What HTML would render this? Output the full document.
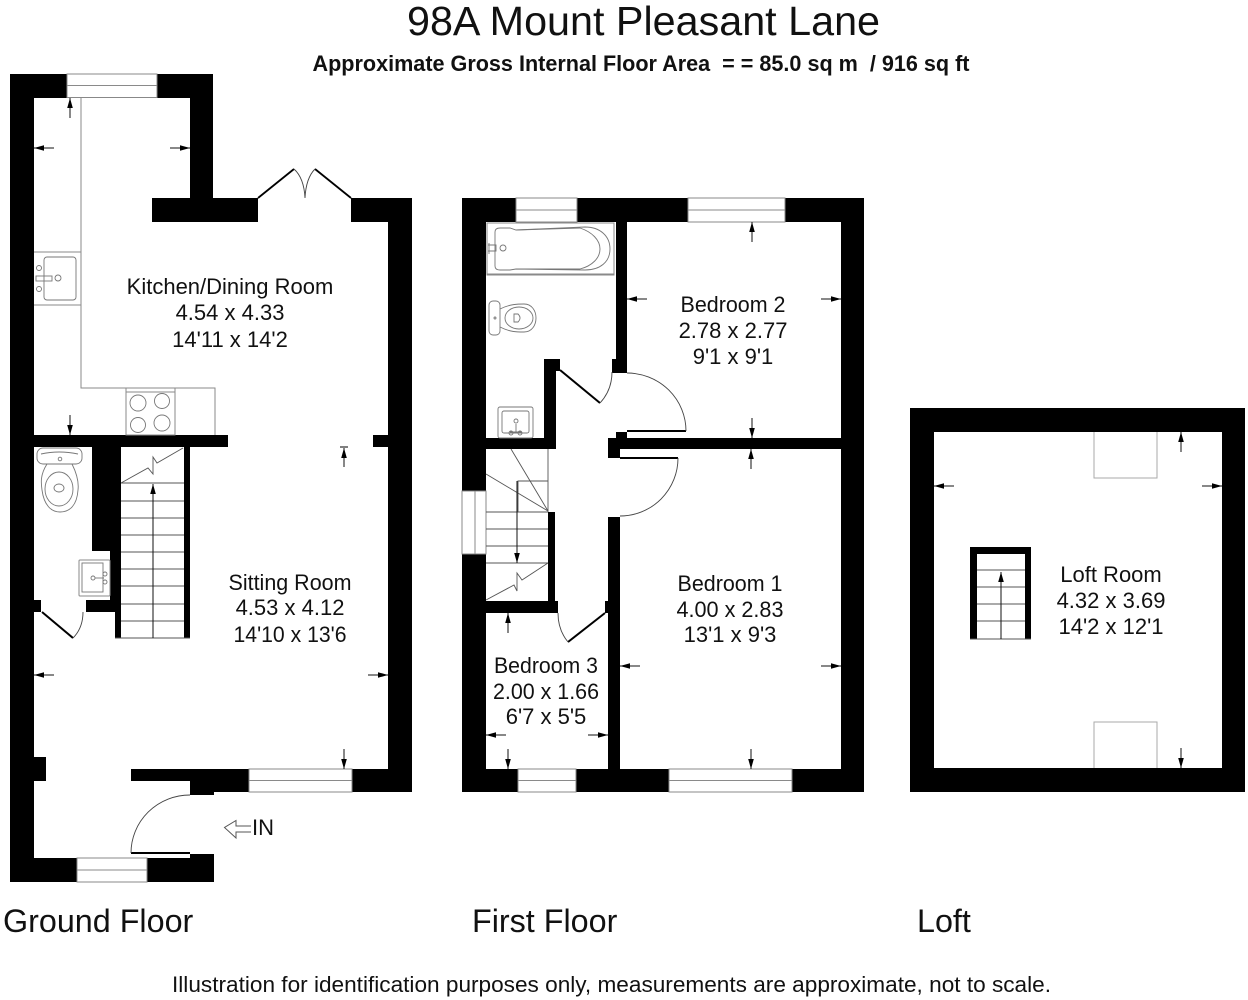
<!DOCTYPE html>
<html><head><meta charset="utf-8"><title>98A Mount Pleasant Lane</title>
<style>html,body{margin:0;padding:0;background:#fff}svg{display:block}
text{font-family:"Liberation Sans",Arial,sans-serif;fill:#111}
.r text,.r{font-size:22px;text-anchor:middle}
.w{fill:#000}.win{fill:#fff;stroke:#888;stroke-width:1}
.g{fill:none;stroke:#8a8a8a;stroke-width:1}
.f{fill:none;stroke:#777;stroke-width:.9}
.t{fill:none;stroke:#555;stroke-width:.9}
.a{stroke:#111;stroke-width:1;fill:none;marker-end:url(#ah)}
.leaf{stroke:#000;stroke-width:2;fill:none}
.arc{stroke:#444;stroke-width:.9;fill:none}
</style></head><body>
<svg width="1248" height="1000" viewBox="0 0 1248 1000" xmlns="http://www.w3.org/2000/svg">
<defs><marker id="ah" markerUnits="userSpaceOnUse" markerWidth="11" markerHeight="7" refX="10" refY="3.5" orient="auto"><path d="M0 0.7L10 3.5L0 6.3Z" fill="#000"/></marker></defs>
<rect width="1248" height="1000" fill="#fff"/>
<text x="643.5" y="35" font-size="41" text-anchor="middle" textLength="473" lengthAdjust="spacingAndGlyphs">98A Mount Pleasant Lane</text>
<text x="641" y="71" font-size="22" font-weight="bold" text-anchor="middle" textLength="657" lengthAdjust="spacingAndGlyphs" xml:space="preserve">Approximate Gross Internal Floor Area  = = 85.0 sq m  / 916 sq ft</text>
<text x="3" y="932" font-size="32.3">Ground Floor</text>
<text x="472" y="932" font-size="32.3">First Floor</text>
<text x="917" y="932" font-size="32.3">Loft</text>
<text x="611.5" y="992" font-size="22" text-anchor="middle" textLength="879" lengthAdjust="spacingAndGlyphs">Illustration for identification purposes only, measurements are approximate, not to scale.</text>

<!-- GROUND FLOOR walls -->
<g class="w">
<rect x="10" y="74" width="24" height="808"/>
<rect x="10" y="74" width="203" height="24"/>
<rect x="190" y="74" width="23" height="130"/>
<rect x="152" y="198" width="106" height="24"/>
<rect x="351" y="198" width="61" height="24"/>
<rect x="388" y="198" width="24" height="594"/>
<rect x="34" y="435" width="194" height="12"/>
<rect x="373" y="435" width="15" height="12"/>
<rect x="92" y="447" width="29" height="104"/>
<rect x="110" y="551" width="11" height="61"/>
<rect x="86" y="600" width="29" height="12"/>
<rect x="115" y="551" width="6" height="87"/>
<rect x="184" y="447" width="6" height="191"/>
<rect x="34" y="600" width="7" height="12"/>
<rect x="34" y="757" width="12" height="24"/>
<rect x="131" y="769" width="118" height="12"/>
<rect x="190" y="769" width="59" height="23"/>
<rect x="190" y="769" width="24" height="26"/>
<rect x="352" y="769" width="60" height="23"/>
<rect x="34" y="858" width="43" height="24"/>
<rect x="147" y="858" width="67" height="24"/>
<rect x="190" y="854" width="24" height="28"/>
</g>
<rect class="win" x="67" y="74" width="90" height="23.5"/><path class="g" d="M67 85.5H157"/>
<rect class="win" x="249" y="769" width="103" height="23"/><path class="g" d="M249 780.5H352"/>
<rect class="win" x="77" y="858" width="70" height="24"/><path class="g" d="M77 870H147"/>
<path d="M258 198L294 169M351 198L315 169" stroke="#000" stroke-width="1.8" fill="none"/>
<path class="arc" d="M294 169Q304 178 305 198M315 169Q306 178 305 198"/>
<!-- kitchen fixtures -->
<path class="g" d="M81 97V388H215V435"/>
<path class="g" d="M34 252H81M34 305H81"/>
<rect class="f" x="44" y="257" width="32" height="43" rx="3"/>
<rect class="f" x="36" y="276" width="16" height="5"/>
<circle class="f" cx="39" cy="268" r="2.5"/><circle class="f" cx="39" cy="289" r="2.5"/><circle class="f" cx="58" cy="278" r="3"/>
<rect class="g" x="126" y="388" width="49" height="47"/>
<path class="g" d="M126 392H175"/>
<circle class="f" cx="138" cy="403" r="8"/><circle class="f" cx="162" cy="401" r="7.5"/><circle class="f" cx="138" cy="425" r="7.5"/><circle class="f" cx="162" cy="423" r="8"/>
<!-- ground WC -->
<rect class="f" x="37" y="448" width="45" height="16" rx="6"/>
<path class="f" d="M41 454Q59 450 78 454"/>
<circle class="f" cx="60" cy="459" r="1.8"/>
<path class="f" d="M47 464C40 475 41 483 42 490C44 505 51 512 60 512C70 512 77 505 78 490C79 482 76 472 72 464"/>
<ellipse class="f" cx="59" cy="489" rx="14" ry="17"/>
<ellipse class="f" cx="59" cy="488" rx="5" ry="4"/>
<rect class="g" x="79" y="560" width="31" height="36" rx="1" fill="#fff"/>
<rect class="f" x="82" y="563" width="21" height="29"/>
<circle class="f" cx="93" cy="578" r="2"/><circle class="f" cx="105" cy="574" r="2"/><circle class="f" cx="105" cy="582" r="2"/>
<path class="f" d="M95 578H104"/>
<path class="leaf" d="M42 612L73 638"/><path class="arc" d="M73 638Q83 628 83 612"/>
<!-- ground stairs -->
<path class="t" d="M121 483H184M121 501H184M121 518H184M121 535H184M121 552H184M121 569H184M121 586H184M121 604H184M121 621H184M115 638H190"/>
<path class="t" d="M121 483L148 468L153 474L153 457L157 463L183 448"/>
<path class="a" d="M153 638V484"/>
<!-- front door -->
<path class="leaf" d="M131 853H190" stroke-width="2"/>
<path class="arc" d="M190 795A59 58 0 0 0 131 853"/>
<path d="M251 826H236V820.5L224.5 827.5L236 838V832H251" fill="#fff" stroke="#555" stroke-width="1"/>
<text x="252" y="835" font-size="22">IN</text>
<!-- ground arrows -->
<path class="a" d="M70 118V98"/><path class="a" d="M54 148H34"/><path class="a" d="M170 148H190"/><path class="a" d="M70 415V435"/>
<path class="a" d="M344 467V448"/><path d="M340 447H348" stroke="#000"/>
<path class="a" d="M54 675H34"/><path class="a" d="M368 675H388"/><path class="a" d="M344 749V769"/>

<g class="r">
<text x="230" y="294">Kitchen/Dining Room</text><text x="230" y="320">4.54 x 4.33</text><text x="230" y="347">14'11 x 14'2</text>
<text x="290" y="590" textLength="123" lengthAdjust="spacingAndGlyphs">Sitting Room</text><text x="290" y="615">4.53 x 4.12</text><text x="290" y="642" textLength="113" lengthAdjust="spacingAndGlyphs">14'10 x 13'6</text>
<text x="733" y="312" textLength="105" lengthAdjust="spacingAndGlyphs">Bedroom 2</text><text x="733" y="338">2.78 x 2.77</text><text x="733" y="364">9'1 x 9'1</text>
<text x="730" y="591" textLength="105" lengthAdjust="spacingAndGlyphs">Bedroom 1</text><text x="730" y="617" textLength="107" lengthAdjust="spacingAndGlyphs">4.00 x 2.83</text><text x="730" y="642">13'1 x 9'3</text>
<text x="546" y="673" textLength="104" lengthAdjust="spacingAndGlyphs">Bedroom 3</text><text x="546" y="699" textLength="106" lengthAdjust="spacingAndGlyphs">2.00 x 1.66</text><text x="546" y="724">6'7 x 5'5</text>
<text x="1111" y="582">Loft Room</text><text x="1111" y="608">4.32 x 3.69</text><text x="1111" y="634">14'2 x 12'1</text>
</g>

<!-- FIRST FLOOR walls -->
<g class="w">
<rect x="462" y="198" width="402" height="24"/>
<rect x="462" y="198" width="24" height="293"/>
<rect x="462" y="554" width="24" height="238"/>
<rect x="841" y="198" width="23" height="594"/>
<rect x="462" y="769" width="402" height="23"/>
<rect x="616" y="222" width="11" height="151"/>
<rect x="612" y="359" width="4" height="14"/>
<rect x="544" y="359" width="12" height="90"/>
<rect x="544" y="359" width="16" height="12"/>
<rect x="486" y="438" width="70" height="11"/>
<rect x="608" y="438" width="233" height="11"/>
<rect x="616" y="432" width="11" height="6"/>
<rect x="608" y="438" width="12" height="20"/>
<rect x="608" y="517" width="12" height="252"/>
<rect x="548" y="512" width="7" height="89"/>
<rect x="486" y="601" width="72" height="12"/>
<rect x="605" y="601" width="3" height="12"/>
</g>
<rect class="win" x="516" y="198" width="61" height="24"/><path class="g" d="M516 210H577"/>
<rect class="win" x="688" y="198" width="97" height="24"/><path class="g" d="M688 210H785"/>
<rect class="win" x="518" y="769" width="58" height="23"/><path class="g" d="M518 780.5H576"/>
<rect class="win" x="669" y="769" width="123" height="23"/><path class="g" d="M669 780.5H792"/>
<rect class="win" x="462" y="491" width="24" height="63"/><path class="g" d="M475 491V554"/>
<!-- doors -->
<path class="leaf" d="M560 370L600 403"/><path class="arc" d="M600 403Q612 390 612 372"/>
<path class="leaf" d="M627 431H686"/><path class="arc" d="M627 373A59 58 0 0 1 686 431"/>
<path class="leaf" d="M620 458H678"/><path class="arc" d="M678 458A58 58 0 0 1 620 516"/>
<path class="leaf" d="M605 613L568 642"/><path class="arc" d="M568 642Q558 630 558 613"/>
<!-- bathroom -->
<rect class="g" x="487" y="223" width="127" height="52"/>
<path class="g" d="M487 274H614" stroke-width="1.5"/>
<path class="f" d="M495 232Q495 228 500 228H510L516 230L585 227C600 227 610 236 610 249C610 262 600 270 585 270L516 269L510 270H500Q495 270 495 266Z"/>
<path class="f" d="M516 230L580 228C592 232 600 240 600 249C600 258 592 266 580 269L516 269"/>
<circle class="f" cx="503" cy="248" r="3"/><path class="f" d="M488 245H496V251H488M489 243V254"/>
<rect class="f" x="489" y="301" width="11" height="34" rx="4"/>
<circle class="f" cx="495" cy="318" r="1"/>
<path class="f" d="M500 309C510 304 518 304 524 304C532 304 536 311 536 318C536 325 532 332 524 332C516 332 510 332 500 327"/>
<ellipse class="f" cx="519" cy="318" rx="14" ry="11"/>
<path class="f" d="M514 314H518Q522 318 518 322H514Z"/>
<rect class="f" x="498" y="407" width="35" height="31" rx="2"/>
<rect class="f" x="502" y="411" width="27" height="22" rx="2"/>
<circle class="f" cx="516" cy="421" r="2"/><path class="f" d="M516 424V432M510 432H522"/>
<circle class="f" cx="511" cy="433" r="2"/><circle class="f" cx="520" cy="433" r="2"/>
<!-- first stairs -->
<path class="t" d="M548 449V512"/>
<path class="t" d="M511 449L548 511L486 474"/>
<path class="t" d="M518 512V481H548"/>
<path class="t" d="M486 512H548M486 529H548M486 546H548M486 563H548"/>
<path class="t" d="M486 600L514 585L517 591V573L522 580L548 563"/>
<path class="a" d="M517 481V563"/>
<!-- first arrows -->
<path class="a" d="M752 242V222"/><path class="a" d="M647 299H627"/><path class="a" d="M821 299H841"/><path class="a" d="M752 418V438"/>
<path class="a" d="M751 469V449"/><path class="a" d="M640 666H620"/><path class="a" d="M821 666H841"/><path class="a" d="M751 749V769"/>
<path class="a" d="M508 633V613"/><path class="a" d="M506 735H486"/><path class="a" d="M588 735H608"/><path class="a" d="M508 749V769"/>

<!-- LOFT -->
<path class="w" fill-rule="evenodd" d="M910 408H1245V792H910ZM934 432V768H1222V432Z"/>
<path d="M1094 432V478H1157V432" fill="none" stroke="#aaa"/>
<path d="M1094 768V722H1157V768" fill="none" stroke="#aaa"/>
<path class="w" d="M970 547H1031V639H1025V554H977V639H970Z"/>
<path class="t" d="M977 570H1025M977 587H1025M977 604H1025M977 621H1025M970 639H1031"/>
<path class="a" d="M1001 639V572"/>
<path class="a" d="M1181 452V432"/><path class="a" d="M954 486H934"/><path class="a" d="M1202 486H1222"/><path class="a" d="M1181 748V768"/>
</svg>
</body></html>
